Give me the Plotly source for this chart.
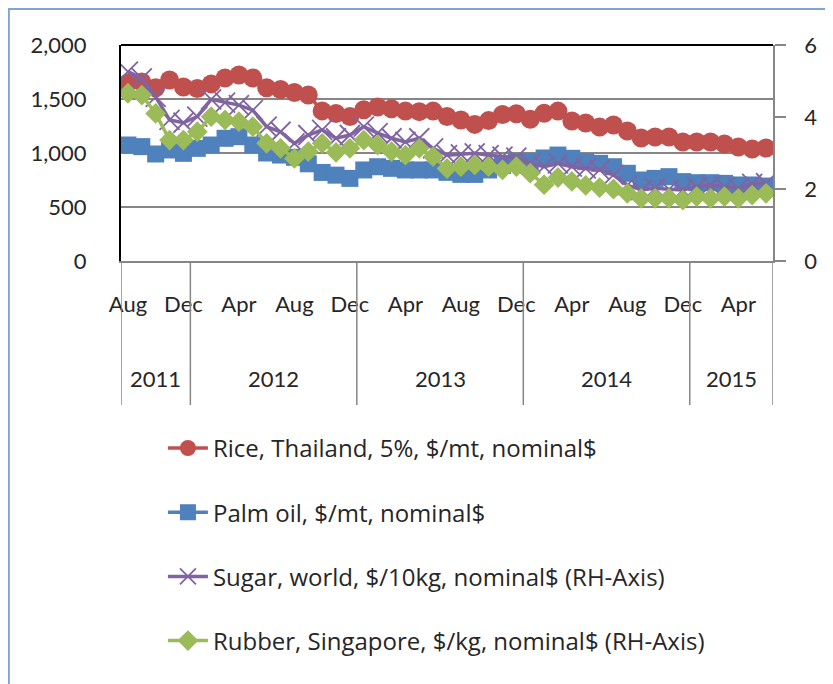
import plotly.graph_objects as go

# ---- data ----
months = ["Aug", "Sep", "Oct", "Nov", "Dec",
          "Jan", "Feb", "Mar", "Apr", "May", "Jun", "Jul", "Aug", "Sep", "Oct", "Nov", "Dec",
          "Jan", "Feb", "Mar", "Apr", "May", "Jun", "Jul", "Aug", "Sep", "Oct", "Nov", "Dec",
          "Jan", "Feb", "Mar", "Apr", "May", "Jun", "Jul", "Aug", "Sep", "Oct", "Nov", "Dec",
          "Jan", "Feb", "Mar", "Apr", "May", "Jun"]
years = ["2011"] * 5 + ["2012"] * 12 + ["2013"] * 12 + ["2014"] * 12 + ["2015"] * 6
tick_months = ["Aug", "Dec", "Apr"]

rice = [1648, 1657, 1605, 1676, 1611, 1597, 1640, 1694, 1722, 1694, 1605, 1588, 1560, 1537,
        1390, 1365, 1337, 1400, 1426, 1410, 1388, 1383, 1388, 1338, 1306, 1265, 1300, 1357,
        1363, 1312, 1368, 1388, 1296, 1278, 1241, 1259, 1204, 1139, 1148, 1148, 1102, 1102,
        1102, 1083, 1056, 1037, 1046]
palm_oil = [1074, 1059, 991, 1028, 997, 1043, 1074, 1136, 1151, 1074, 1000, 981, 960, 900,
            820, 795, 765, 843, 873, 858, 843, 843, 843, 821, 802, 802, 843, 884, 920, 920,
            954, 981, 951, 920, 904, 873, 812, 750, 765, 781, 735, 725, 725, 719, 704, 704, 694]
sugar = [5.26, 5.07, 4.56, 3.92, 3.84, 4.01, 4.49, 4.40, 4.33, 4.19, 3.73, 3.59, 3.27, 3.50,
         3.64, 3.41, 3.50, 3.73, 3.55, 3.41, 3.31, 3.41, 3.13, 2.94, 2.96, 2.99, 2.94, 2.90,
         2.87, 2.71, 2.62, 2.71, 2.62, 2.57, 2.53, 2.39, 2.11, 1.97, 2.02, 1.99, 1.97, 2.06,
         2.11, 2.06, 2.02, 2.14, 2.16]
rubber = [4.66, 4.61, 4.10, 3.36, 3.36, 3.59, 4.01, 3.92, 3.87, 3.73, 3.27, 3.13, 2.85, 3.04,
          3.27, 3.02, 3.13, 3.36, 3.22, 3.04, 2.94, 3.13, 2.90, 2.57, 2.62, 2.67, 2.62, 2.53,
          2.62, 2.44, 2.12, 2.32, 2.21, 2.10, 2.04, 2.00, 1.88, 1.74, 1.74, 1.74, 1.69, 1.79,
          1.74, 1.79, 1.74, 1.83, 1.88]

names = ["Rice, Thailand, 5%, $/mt, nominal$",
         "Palm oil, $/mt, nominal$",
         "Sugar, world, $/10kg, nominal$ (RH-Axis)",
         "Rubber, Singapore, $/kg, nominal$ (RH-Axis)"]

# ---- figure ----
x = list(range(len(months)))
AXFONT = dict(family="Lato, 'Open Sans', sans-serif", size=22, color="#262626")
GRAY = "#868686"

fig = go.Figure()
fig.add_trace(go.Scatter(x=x, y=rice, name=names[0], mode="lines+markers", legendgroup="a",
                         line=dict(color="#C0504D", width=3.5),
                         marker=dict(symbol="circle", size=19, color="#C0504D")))
fig.add_trace(go.Scatter(x=x, y=palm_oil, name=names[1], mode="lines+markers", legendgroup="b",
                         line=dict(color="#4F81BD", width=3.5),
                         marker=dict(symbol="square", size=17, color="#4F81BD")))
fig.add_trace(go.Scatter(x=x, y=sugar, name=names[2], mode="lines+markers", yaxis="y2",
                         legendgroup="c",
                         line=dict(color="#8064A2", width=3.5),
                         marker=dict(symbol="x-thin-open", size=20,
                                     line=dict(color="#8064A2", width=1.8))))
fig.add_trace(go.Scatter(x=x, y=rubber, name=names[3], mode="lines+markers", yaxis="y2",
                         legendgroup="d",
                         line=dict(color="#9BBB59", width=3.5),
                         marker=dict(symbol="diamond", size=16, color="#9BBB59")))

tickvals = [i for i, m in enumerate(months) if m in tick_months]
ticktext = [months[i] for i in tickvals]

# year group boundaries and centres (from the data arrays)
bounds = [-0.5] + [i - 0.5 for i in range(1, len(years)) if years[i] != years[i - 1]] + [len(years) - 0.5]
shapes = []
for b in bounds:
    shapes.append(dict(type="line", xref="x", yref="paper", x0=b, x1=b, y0=0, y1=-0.667,
                       line=dict(color=GRAY, width=1.5)))
# top border of plot area
shapes.append(dict(type="line", xref="paper", yref="paper", x0=0, x1=1, y0=1, y1=1,
                   line=dict(color="black", width=2)))
# outer chart border (left/top visible)
shapes.append(dict(type="rect", xref="paper", yref="paper", x0=-0.172, x1=1.3, y0=-2.2, y1=1.167,
                   line=dict(color="#7FA3D6", width=2)))

annotations = []
for k in range(len(bounds) - 1):
    yr = years[int(bounds[k] + 0.5)]
    annotations.append(dict(x=(bounds[k] + bounds[k + 1]) / 2, y=-0.542, xref="x", yref="paper",
                            text=yr, showarrow=False, yanchor="middle", font=AXFONT))

fig.update_layout(
    width=833, height=684,
    margin=dict(l=113, r=68, t=37, b=431, autoexpand=False),
    paper_bgcolor="white", plot_bgcolor="white",
    showlegend=True,
    legend=dict(xref="container", yref="container", x=0.186, y=0.389, xanchor="left", yanchor="top",
                traceorder="grouped", tracegroupgap=30, itemwidth=40,
                font=dict(family="'Open Sans', Lato, sans-serif", size=24, color="#262626"),
                bgcolor="rgba(0,0,0,0)"),
    xaxis=dict(range=[-0.5, len(months) - 0.5], tickvals=tickvals, ticktext=ticktext,
               automargin=False, tickangle=0,
               showgrid=False, zeroline=False, showline=True, linecolor=GRAY, linewidth=1.5,
               ticks="outside", ticklen=23, tickcolor="rgba(0,0,0,0)", tickfont=AXFONT),
    yaxis=dict(range=[0, 2000], dtick=500, tickformat=",", showgrid=True, gridcolor=GRAY,
               automargin=False,
               gridwidth=1.5, zeroline=False, showline=True, linecolor="black", linewidth=2,
               ticks="", ticklabelstandoff=28, tickfont=AXFONT),
    yaxis2=dict(range=[0, 6], dtick=2, overlaying="y", side="right", showgrid=False,
                automargin=False,
                zeroline=False, showline=True, linecolor=GRAY, linewidth=1.5,
                ticks="outside", ticklen=11, tickcolor=GRAY, tickwidth=1.5,
                ticklabelstandoff=14, tickfont=AXFONT),
    shapes=shapes,
    annotations=annotations,
)

fig.write_html("out.html")
